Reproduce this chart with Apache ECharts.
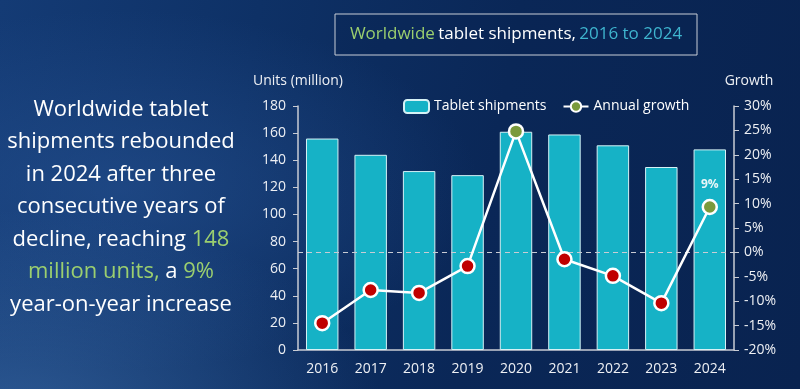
<!DOCTYPE html>
<html><head><meta charset="utf-8">
<script src="https://cdn.jsdelivr.net/npm/echarts@6/dist/echarts.min.js"></script>
<style>
html,body{margin:0;padding:0;width:800px;height:389px;overflow:hidden;}
body{background:
 radial-gradient(ellipse 520px 300px at 20px 420px, rgba(70,120,180,0.5), rgba(70,120,180,0) 70%),
 radial-gradient(ellipse 480px 240px at 120px 190px, rgba(40,85,150,0.55), rgba(40,85,150,0) 75%),
 linear-gradient(100deg,#143b75 0%,#0e3166 30%,#0a2757 60%,#092350 100%);}
#c{width:800px;height:389px;}
</style></head>
<body><div id="c"></div>
<script>
const categories = ['2016','2017','2018','2019','2020','2021','2022','2023','2024'];
const shipments = [156,144,132,129,161,159,151,135,148];
const growth = [-14.5,-7.7,-8.3,-2.8,24.8,-1.4,-4.8,-10.4,9.3];
const leftTicks = {min:0,max:180,interval:20};
const rightTicks = {min:-20,max:30,interval:5};

const chart = echarts.init(document.getElementById('c'));
const font = '"Open Sans", "Noto Sans", sans-serif';
const lineData = growth.map((v,i)=>({
  value:v,
  itemStyle:{color: v>=0 ? '#7a9a3c' : '#c00000'},
  label:{show: i===growth.length-1}
}));
chart.setOption({
  backgroundColor:'transparent',
  textStyle:{fontFamily:font},
  graphic:[
    {type:'rect',shape:{x:335,y:14,width:362,height:41},style:{fill:'rgba(10,35,80,0.35)',stroke:'#c8cdd6',lineWidth:1}},
    {type:'text',style:{
      x:516,y:34.5,align:'center',verticalAlign:'middle',
      text:'{g|Worldwide} {w|tablet shipments,} {b|2016 to 2024}',
      rich:{
        g:{fill:'#9bcf6f',fontSize:17,fontFamily:font},
        w:{fill:'#ffffff',fontSize:17,fontFamily:font},
        b:{fill:'#3fb5cf',fontSize:17,fontFamily:font}
      }}},
    {type:'text',style:{
      x:121,y:207,align:'center',verticalAlign:'middle',lineHeight:32.5,
      text:'{w|Worldwide tablet}\n{w|shipments rebounded}\n{w|in 2024 after three}\n{w|consecutive years of}\n{w|decline, reaching }{g|148}\n{g|million units,}{w| a }{g|9%}\n{w|year-on-year increase}',
      rich:{
        w:{fill:'#ffffff',fontSize:22,fontFamily:font,lineHeight:32.5},
        g:{fill:'#9bcf6f',fontSize:22,fontFamily:font,lineHeight:32.5}
      }}}
  ],
  legend:{
    top:94,left:398,itemGap:16,itemWidth:25,itemHeight:13,
    textStyle:{color:'#ffffff',fontSize:14,fontFamily:font},
    data:[{name:'Tablet shipments'},{name:'Annual growth',itemStyle:{color:'#7a9a3c',borderColor:'#fff',borderWidth:2}}]
  },
  grid:{left:298,right:66,top:106,bottom:39,containLabel:false},
  xAxis:{
    type:'category',data:categories,
    axisLine:{lineStyle:{color:'#c9ccd4',width:1.5}},
    axisTick:{show:false},
    axisLabel:{color:'#eef0f4',fontSize:14,margin:12,fontFamily:font}
  },
  yAxis:[
    {type:'value',min:leftTicks.min,max:leftTicks.max,interval:leftTicks.interval,
     name:'Units (million)',nameLocation:'end',nameGap:18,
     nameTextStyle:{color:'#eef0f4',fontSize:14,align:'center',padding:[0,0,0,0],fontFamily:font},
     axisLine:{show:true,lineStyle:{color:'#c9ccd4',width:1.5}},
     axisTick:{show:true,length:5,lineStyle:{color:'#c9ccd4'}},
     splitLine:{show:false},
     axisLabel:{color:'#eef0f4',fontSize:14,margin:12,fontFamily:font}},
    {type:'value',min:rightTicks.min,max:rightTicks.max,interval:rightTicks.interval,
     name:'Growth',nameLocation:'end',nameGap:18,
     nameTextStyle:{color:'#eef0f4',fontSize:14,align:'center',padding:[0,0,0,30],fontFamily:font},
     axisLine:{show:true,lineStyle:{color:'#c9ccd4',width:1.5}},
     axisTick:{show:true,length:5,lineStyle:{color:'#c9ccd4'}},
     splitLine:{show:false},
     axisLabel:{color:'#eef0f4',fontSize:14,margin:10,formatter:'{value}%',fontFamily:font}}
  ],
  series:[
    {name:'Tablet shipments',type:'bar',data:shipments,barWidth:'67%',
     itemStyle:{color:'#16b2c6',borderColor:'#d6f2f6',borderWidth:1}},
    {name:'Annual growth',type:'line',yAxisIndex:1,data:lineData,
     symbol:'circle',symbolSize:14,
     lineStyle:{color:'#ffffff',width:2.5},
     itemStyle:{borderColor:'#ffffff',borderWidth:2.5},
     label:{position:'top',distance:8,color:'#e8f6f8',fontSize:12,fontWeight:'bold',formatter:(p)=>Math.round(p.value)+'%',fontFamily:font},
     markLine:{silent:true,symbol:'none',label:{show:false},
       lineStyle:{color:'#c9ccd4',type:[5,4],width:1},
       data:[{yAxis:0}]},
     z:5}
  ]
});
</script></body></html>
